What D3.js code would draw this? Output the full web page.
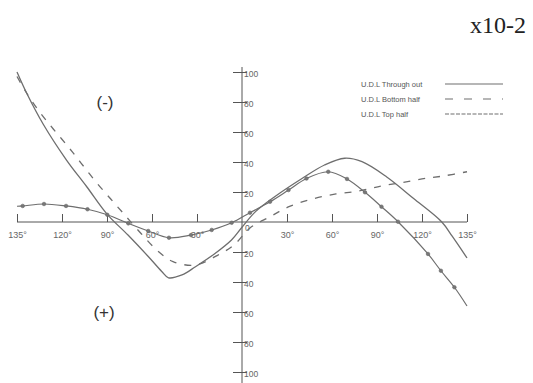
<!DOCTYPE html>
<html>
<head>
<meta charset="utf-8">
<script src="https://cdn.jsdelivr.net/npm/d3@7"></script>
<style>
  body { margin: 0; background: #fff; }
  svg { display: block; }
</style>
</head>
<body>
<svg id="chart"></svg>
<script>
// chart size
var width = 533,
    height = 383;

// tick values (degrees, and moment x10-2)
var xTicks = [-135, -120, -90, -60, -30, 30, 60, 90, 120, 135];
var yTicks = [-100, -80, -60, -40, -20, 20, 40, 60, 80, 100];

// series: [angle in degrees, value], up = (-) side
var throughOut = [[-135, 100], [-131.8, 86], [-126.2, 65], [-117, 41.3], [-103.5, 23.5], [-90, 5.3],
    [-76, -8.7], [-62.5, -23], [-53.5, -33], [-49, -37.2], [-40, -35.3], [-31, -29.8], [-18, -21],
    [-7, -12], [0, -3.5], [9, 6.9], [22, 17], [40, 29], [55, 38], [68.5, 42.5], [80, 40.2],
    [96.5, 30], [114.2, 15.8], [126.6, 0], [130, -9.3], [135, -24]];

var bottomHalf = [[-135, 97], [-131.8, 86], [-127.3, 73], [-122.9, 62], [-116.3, 50.7], [-107.3, 39.3],
    [-97.5, 26.9], [-87.5, 15.3], [-78.7, 5.3], [-67, -8], [-56.3, -19.2], [-46, -26.4], [-31.3, -28.7],
    [-16.3, -22.2], [-5.3, -15.3], [5.3, -4], [18.7, 3.5], [31.3, 10.2], [46.7, 15.3], [62.7, 18.7],
    [78, 20.7], [92.7, 24], [105.3, 26], [120, 28.7], [127.2, 30.7], [135, 33.5]];

var topHalf = [[-135, 10.5], [-133.1, 10.7], [-126, 12], [-117.3, 10.7], [-103, 8.5], [-89.8, 4.8],
    [-75.8, -0.9], [-62.5, -6], [-48.7, -10.5], [-34, -8.7], [-20.2, -5.3], [-6.9, -0.5], [5.3, 6.2],
    [18.7, 13.5], [31, 21.3], [43, 29], [57.5, 33.5], [70, 28.7], [82, 19.8], [93, 10.2], [104, 0.2],
    [122, -21.3], [126.3, -32.5], [130.8, -43.5], [135, -56]];

var legendLabels = ["U.D.L Through out", "U.D.L Bottom half", "U.D.L Top half"];

var ink = "#6e6e6e",
    axisInk = "#555";

var svg = d3.select("#chart")
    .attr("width", width)
    .attr("height", height);

// the outer 120..135 step is drawn as wide as a 30 degree step
var x = d3.scaleLinear()
    .domain([-135, -120, 120, 135])
    .range([17, 62, 422, 467]);

var y = d3.scaleLinear()
    .domain([-100, 100])
    .range([372, 72]);

// x axis, ticks pointing up, labels under the line
var gx = svg.append("g")
    .attr("transform", "translate(0," + y(0) + ")")
    .call(d3.axisTop(x).tickValues(xTicks).tickSize(8).tickSizeOuter(0)
        .tickFormat(function(d) { return Math.abs(d) + "°"; }));
gx.select(".domain").attr("stroke", axisInk).attr("d", "M" + x(-135) + ",0H" + x(135));
gx.selectAll(".tick line").attr("stroke", axisInk);
gx.selectAll(".tick text")
    .attr("y", 16)
    .attr("dy", 0)
    .attr("fill", "#666")
    .attr("font-family", "Liberation Sans, Arial, sans-serif")
    .attr("font-size", "9px");

// y axis, ticks crossing the line, labels as absolute values
var gy = svg.append("g")
    .attr("transform", "translate(" + x(0) + ",0)")
    .call(d3.axisRight(y).tickValues(yTicks).tickSize(5).tickSizeOuter(0)
        .tickFormat(function(d) { return Math.abs(d); }));
gy.select(".domain").attr("stroke", axisInk).attr("d", "M0,67V383");
gy.selectAll(".tick line").attr("x1", -9).attr("x2", 5).attr("stroke", axisInk);
gy.selectAll(".tick text")
    .attr("x", 2)
    .attr("dy", "0.5em")
    .attr("fill", "#666")
    .attr("font-family", "Liberation Sans, Arial, sans-serif")
    .attr("font-size", "8.5px");

gy.append("text")
    .attr("x", 3)
    .attr("y", y(0) + 9)
    .attr("fill", "#666")
    .attr("font-family", "Liberation Sans, Arial, sans-serif")
    .attr("font-size", "8.5px")
    .text("0");

// curves
var line = d3.line()
    .x(function(d) { return x(d[0]); })
    .y(function(d) { return y(d[1]); })
    .curve(d3.curveCatmullRom.alpha(0.5));

svg.append("path")
    .datum(throughOut)
    .attr("d", line)
    .attr("fill", "none")
    .attr("stroke", ink)
    .attr("stroke-width", 1.3);

svg.append("path")
    .datum(bottomHalf)
    .attr("d", line)
    .attr("fill", "none")
    .attr("stroke", ink)
    .attr("stroke-width", 1.3)
    .attr("stroke-dasharray", "7,8");

svg.append("path")
    .datum(topHalf)
    .attr("d", line)
    .attr("fill", "none")
    .attr("stroke", ink)
    .attr("stroke-width", 1.2);

svg.selectAll("circle.mark")
    .data(topHalf.slice(1, -1))
    .enter()
    .append("circle")
    .attr("class", "mark")
    .attr("cx", function(d) { return x(d[0]); })
    .attr("cy", function(d) { return y(d[1]); })
    .attr("r", 1.8)
    .attr("fill", "#777")
    .attr("stroke", "#666")
    .attr("stroke-width", 0.6);

// sign labels
svg.append("text")
    .attr("x", 105)
    .attr("y", 108)
    .attr("text-anchor", "middle")
    .attr("font-family", "Liberation Sans, Arial, sans-serif")
    .attr("font-size", "17px")
    .attr("fill", "#333")
    .text("(-)");

svg.append("text")
    .attr("x", 104)
    .attr("y", 318)
    .attr("text-anchor", "middle")
    .attr("font-family", "Liberation Sans, Arial, sans-serif")
    .attr("font-size", "17px")
    .attr("fill", "#333")
    .text("(+)");

svg.append("text")
    .attr("x", 470)
    .attr("y", 33)
    .attr("font-family", "Liberation Serif, Times New Roman, serif")
    .attr("font-size", "24px")
    .attr("fill", "#222")
    .text("x10-2");

// legend
var legend = svg.append("g")
    .selectAll("g")
    .data(legendLabels)
    .enter()
    .append("g")
    .attr("transform", function(d, i) { return "translate(0," + (84 + i * 15) + ")"; });

legend.append("text")
    .attr("x", 361)
    .attr("dy", "0.35em")
    .attr("font-family", "Liberation Sans, Arial, sans-serif")
    .attr("font-size", "7.5px")
    .attr("fill", "#555")
    .text(function(d) { return d; });

legend.append("line")
    .attr("x1", 445)
    .attr("x2", 503)
    .attr("stroke", ink)
    .attr("stroke-width", 1.1)
    .attr("stroke-dasharray", function(d, i) { return ["none", "8,11", "4,1.5"][i]; });
</script>
</body>
</html>
